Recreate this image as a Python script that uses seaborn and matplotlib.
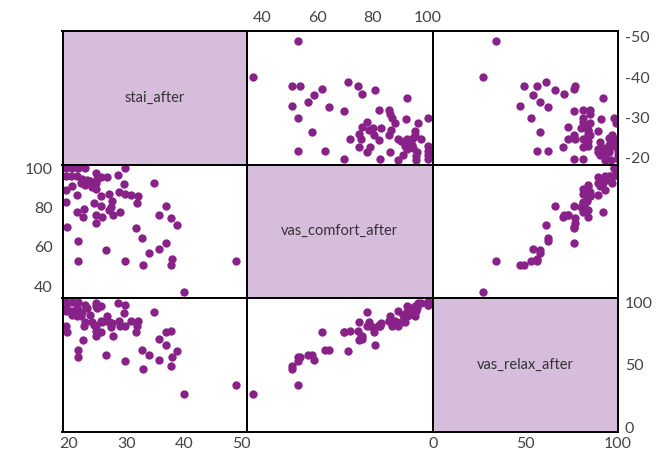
import matplotlib
matplotlib.use("Agg")
import matplotlib.pyplot as plt
import pandas as pd
import seaborn as sns

# ---------------- data ----------------
variables = ["stai_after", "vas_comfort_after", "vas_relax_after"]

stai_after = [19.5, 20.5, 21.6, 22.7, 29.8, 19.4, 20.4, 21.4, 22.2, 23.1,
              24.6, 25.6, 26.6, 28.5, 22.0, 22.8, 23.7, 24.6, 24.8, 24.0,
              24.6, 20.6, 19.4, 34.8, 29.6, 21.4, 25.5, 26.9, 28.6, 29.8,
              30.8, 19.5, 24.3, 27.4, 25.6, 27.3, 31.8, 36.8, 21.3, 22.6,
              22.5, 24.6, 25.7, 26.9, 27.6, 28.8, 24.6, 35.7, 37.7, 38.8,
              19.6, 31.6, 32.6, 21.6, 36.9, 35.6, 33.9, 26.4, 21.6, 29.8,
              32.8, 37.8, 37.7, 48.9, 39.9, 31.9]

vas_comfort_after = [100, 100, 100, 100, 100, 95.8, 95.8, 96.1, 94.4, 94.1,
                     97.5, 95.4, 95.4, 96.4, 92.4, 91.5, 93.2, 92.4, 94.4, 90.3,
                     89.3, 91.0, 89.0, 92.4, 91.9, 86.4, 85.9, 86.8, 88.0, 86.9,
                     86.1, 82.7, 82.2, 83.0, 80.5, 80.0, 82.2, 80.9, 77.9, 79.1,
                     75.1, 75.9, 75.1, 78.8, 76.3, 77.9, 72.0, 76.1, 74.6, 71.2,
                     69.8, 69.5, 64.4, 62.7, 61.9, 58.8, 56.8, 58.1, 53.0, 52.9,
                     50.8, 53.9, 50.8, 52.9, 36.8, 86.0]

vas_relax_after = [100, 100, 100, 98, 98, 96, 93, 95, 92, 95,
                   99, 97, 89, 99, 89, 84, 90, 97, 95, 84,
                   81, 90, 93, 92, 91, 89, 85, 84, 85, 81,
                   85, 81, 82, 83, 76, 80, 81, 66, 92, 81,
                   70, 73, 84, 84, 73, 81, 77, 71, 77, 61,
                   76, 76, 62, 62, 76, 54, 58, 58, 56, 53,
                   47, 56, 49, 34, 27, 85]

stai_ticks = [20, 30, 40, 50]
stai_tick_labels = ["-20", "-30", "-40", "-50"]
comfort_ticks = [40, 60, 80, 100]
relax_ticks = [0, 50, 100]

df = pd.DataFrame({
    "stai_after": stai_after,
    "vas_comfort_after": vas_comfort_after,
    "vas_relax_after": vas_relax_after,
})

# ---------------- style ----------------
sns.set_style("white")
plt.rcParams["font.family"] = ["Lato", "DejaVu Sans"]

POINT = "#882288"
DIAG = "#d6bddc"
TICKC = "#444444"

g = sns.PairGrid(df, vars=variables, despine=False, height=1.5, aspect=1.38)
g.map_offdiag(sns.scatterplot, color=POINT, s=36, linewidth=0, alpha=1)

fig = g.figure
fig.set_size_inches(6.69, 4.54)
W, H = 669.0, 454.0

col_x = [62.5, 246.5, 432.5]
col_w = [184.0, 186.0, 185.5]
row_y = [30.5, 164.5, 297.5]
row_h = [134.0, 133.0, 134.0]

for i in range(3):
    for j in range(3):
        ax = g.axes[i, j]
        ax.set_position([col_x[j] / W, (H - row_y[i] - row_h[i]) / H,
                         col_w[j] / W, row_h[i] / H])
        ax.set_xlabel("")
        ax.set_ylabel("")
        for sp in ax.spines.values():
            sp.set_visible(True)
            sp.set_color("black")
            sp.set_linewidth(1.4)
        ax.tick_params(axis="both", length=0, labelsize=11.5, labelcolor=TICKC,
                       labelbottom=False, labeltop=False,
                       labelleft=False, labelright=False)

# limits and ticks (shared by row/column)
g.axes[0, 0].set_xlim(18.87, 50.8)
g.axes[0, 0].set_ylim(18.2, 51.6)
g.axes[1, 1].set_xlim(34.5, 101.6)
g.axes[1, 1].set_ylim(34.2, 101.8)
g.axes[2, 2].set_xlim(-0.3, 99.8)
g.axes[2, 2].set_ylim(-2.9, 103.6)

g.axes[0, 0].set_xticks(stai_ticks)
g.axes[0, 0].set_yticks(stai_ticks, stai_tick_labels)
g.axes[1, 1].set_xticks(comfort_ticks)
g.axes[1, 1].set_yticks(comfort_ticks)
g.axes[2, 2].set_xticks(relax_ticks)
g.axes[2, 2].set_yticks(relax_ticks)

# tick label placement (alternating, like a scatterplot matrix)
g.axes[0, 1].tick_params(axis="x", labeltop=True, pad=4)
g.axes[1, 0].tick_params(axis="y", labelleft=True, pad=7)
g.axes[0, 2].tick_params(axis="y", labelright=True, pad=5)
g.axes[2, 2].tick_params(axis="y", labelright=True, pad=5)
g.axes[2, 0].tick_params(axis="x", labelbottom=True, pad=4)
g.axes[2, 2].tick_params(axis="x", labelbottom=True, pad=4)

# diagonal panels
for k, name in enumerate(variables):
    ax = g.axes[k, k]
    ax.set_facecolor(DIAG)
    ax.text(0.5, 0.5, name, transform=ax.transAxes, ha="center", va="center",
            fontsize=10.5, color="#333333")

fig.savefig("out.png", dpi=100)
